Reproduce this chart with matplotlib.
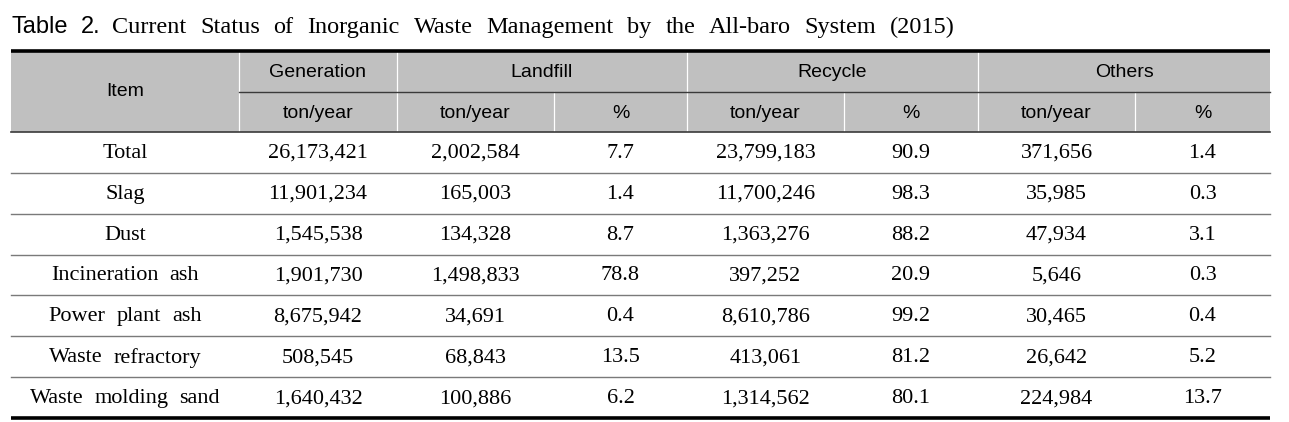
import matplotlib
matplotlib.use("Agg")
import matplotlib.pyplot as plt
from matplotlib.patches import Rectangle

# ---- data ----
title_prefix = "Table 2."
title_text = "Current Status of Inorganic Waste Management by the All-baro System (2015)"
groups = ["Generation", "Landfill", "Recycle", "Others"]
item_header = "Item"
unit_labels = ["ton/year", "ton/year", "%", "ton/year", "%", "ton/year", "%"]
items = ["Total", "Slag", "Dust", "Incineration ash", "Power plant ash",
         "Waste refractory", "Waste molding sand"]
generation = ["26,173,421", "11,901,234", "1,545,538", "1,901,730", "8,675,942", "508,545", "1,640,432"]
landfill_ton = ["2,002,584", "165,003", "134,328", "1,498,833", "34,691", "68,843", "100,886"]
landfill_pct = ["7.7", "1.4", "8.7", "78.8", "0.4", "13.5", "6.2"]
recycle_ton = ["23,799,183", "11,700,246", "1,363,276", "397,252", "8,610,786", "413,061", "1,314,562"]
recycle_pct = ["90.9", "98.3", "88.2", "20.9", "99.2", "81.2", "80.1"]
others_ton = ["371,656", "35,985", "47,934", "5,646", "30,465", "26,642", "224,984"]
others_pct = ["1.4", "0.3", "3.1", "0.3", "0.4", "5.2", "13.7"]

# ---- layout (pixels) ----
W, H = 1289, 422
xb = [11, 239, 397, 554, 687, 844, 978, 1135, 1270]   # column boundaries
y_top, y_mid, y_head = 51, 92, 132
y_bot = 418
nrows = len(items)
row_h = (y_bot - y_head) / nrows
group_spans = [(1, 2), (2, 4), (4, 6), (6, 8)]

fig = plt.figure(figsize=(W / 100, H / 100), dpi=100)
ax = fig.add_axes([0, 0, 1, 1])
ax.set_xlim(0, W)
ax.set_ylim(H, 0)
ax.axis("off")
renderer = fig.canvas.get_renderer()

sans = "Liberation Sans"
serif = "Liberation Serif"


def word_width(word, **kw):
    t = ax.text(0, 0, word, **kw)
    w = t.get_window_extent(renderer=renderer).width
    t.remove()
    return w


def draw_words(text, y, gap, x0=None, x1=None, xc=None, **kw):
    """Draw words with a given gap (px); either spread between x0..x1 or centred at xc."""
    words = text.split(" ")
    widths = [word_width(w, **kw) for w in words]
    if x0 is not None and x1 is not None and len(words) > 1:
        gap = (x1 - x0 - sum(widths)) / (len(words) - 1)
        x = x0
    else:
        total = sum(widths) + gap * (len(words) - 1)
        x = xc - total / 2
    for w, wd in zip(words, widths):
        ax.text(x, y, w, ha="left", **kw)
        x += wd + gap


# title
draw_words(title_prefix, 33, 0, x0=12, x1=101, fontfamily=sans, fontsize=17, va="baseline")
draw_words(title_text, 33, 0, x0=112, x1=955, fontfamily=serif, fontsize=17.5, va="baseline")

# header background
ax.add_patch(Rectangle((xb[0], y_top), xb[-1] - xb[0], y_head - y_top,
                       facecolor="#c0c0c0", edgecolor="none", zorder=0))

# header vertical white lines
for i in range(1, len(xb) - 1):
    y_start = y_top if i in (1, 2, 4, 6) else y_mid
    ax.plot([xb[i], xb[i]], [y_start, y_head], color="white", lw=0.9, zorder=1)

# header horizontal lines
ax.plot([xb[1], xb[-1]], [y_mid, y_mid], color="#3a3a3a", lw=1.0, zorder=2)
ax.plot([xb[0], xb[-1]], [y_head, y_head], color="#3a3a3a", lw=1.2, zorder=2)
ax.plot([xb[0], xb[-1]], [y_top, y_top], color="black", lw=2.6, zorder=3, solid_capstyle="butt")
ax.plot([xb[0], xb[-1]], [y_bot, y_bot], color="black", lw=2.6, zorder=3, solid_capstyle="butt")

# header text
hfs = 14
ax.text((xb[0] + xb[1]) / 2, (y_top + y_head) / 2, item_header, fontfamily=sans,
        fontsize=hfs, ha="center", va="center")
for g, (a, b) in zip(groups, group_spans):
    ax.text((xb[a] + xb[b]) / 2, (y_top + y_mid) / 2 + 1, g, fontfamily=sans,
            fontsize=hfs, ha="center", va="center")
for j, u in enumerate(unit_labels):
    ax.text((xb[j + 1] + xb[j + 2]) / 2, (y_mid + y_head) / 2 + 1, u, fontfamily=sans,
            fontsize=hfs, ha="center", va="center")

# body
columns = [items, generation, landfill_ton, landfill_pct, recycle_ton, recycle_pct,
           others_ton, others_pct]
dfs = 16
for r in range(nrows):
    yc = y_head + (r + 0.5) * row_h
    for c, col in enumerate(columns):
        xc = (xb[c] + xb[c + 1]) / 2
        if c == 0:
            draw_words(col[r], yc + 1, 11, xc=xc, fontfamily=serif, fontsize=dfs, va="center")
        else:
            ax.text(xc, yc + 1, col[r], fontfamily=serif,
                    fontsize=dfs, ha="center", va="center")
    if r < nrows - 1:
        yl = y_head + (r + 1) * row_h
        ax.plot([xb[0], xb[-1]], [yl, yl], color="#7a7a7a", lw=1.0, zorder=1)

fig.savefig("out.png", dpi=100)
